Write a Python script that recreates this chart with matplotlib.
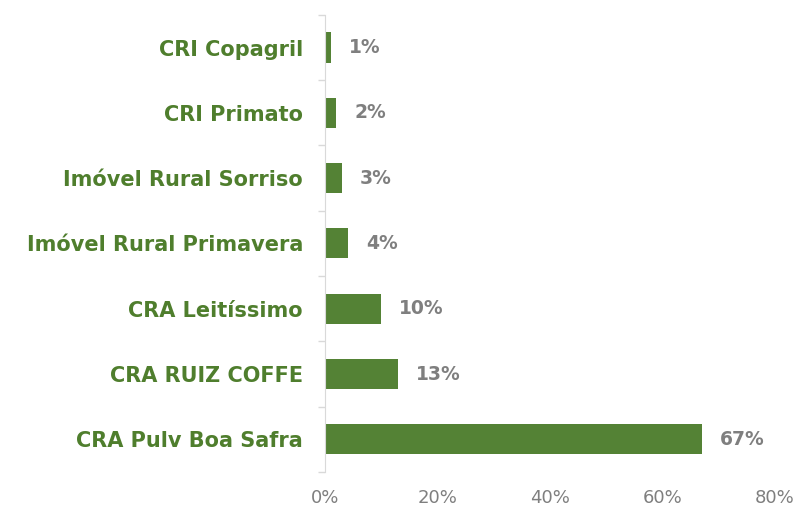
import matplotlib
matplotlib.use("Agg")
import matplotlib.pyplot as plt
from matplotlib.ticker import FuncFormatter

categories = [
    "CRI Copagril",
    "CRI Primato",
    "Imóvel Rural Sorriso",
    "Imóvel Rural Primavera",
    "CRA Leitíssimo",
    "CRA RUIZ COFFE",
    "CRA Pulv Boa Safra",
]
values = [1, 2, 3, 4, 10, 13, 67]
xticks = [0, 20, 40, 60, 80]

green = "#548235"
labelGreen = "#4f7e2d"
gray = "#7f7f7f"

plt.rcParams["font.family"] = ["DejaVu Sans"]

fig = plt.figure(figsize=(7.97, 5.12), dpi=100)
ax = fig.add_axes([0.408, 0.078, 0.564, 0.893])

pos = list(range(len(categories)))
ax.barh(pos, values, height=0.46, color=green)
ax.set_ylim(len(categories) - 0.5, -0.5)
ax.set_xlim(0, 80)

for p, v in zip(pos, values):
    ax.annotate(f"{v}%", (v, p), xytext=(13, 0), textcoords="offset points",
                va="center", ha="left", fontsize=13.5, fontweight="bold", color=gray)

ax.set_yticks(pos)
ax.set_yticklabels(categories, fontsize=15, fontweight="bold", color=labelGreen)
ax.set_yticks([p + 0.5 for p in range(-1, len(categories))], minor=True)
ax.tick_params(axis="y", which="major", length=0, pad=16)
ax.tick_params(axis="y", which="minor", length=5, color="#d9d9d9", width=1)

ax.set_xticks(xticks)
ax.xaxis.set_major_formatter(FuncFormatter(lambda x, _: f"{x:.0f}%"))
ax.tick_params(axis="x", length=0, labelsize=13, labelcolor=gray, pad=12)

for s in ["top", "right", "bottom"]:
    ax.spines[s].set_visible(False)
ax.spines["left"].set_color("#d9d9d9")

fig.savefig("out.png", dpi=100)
